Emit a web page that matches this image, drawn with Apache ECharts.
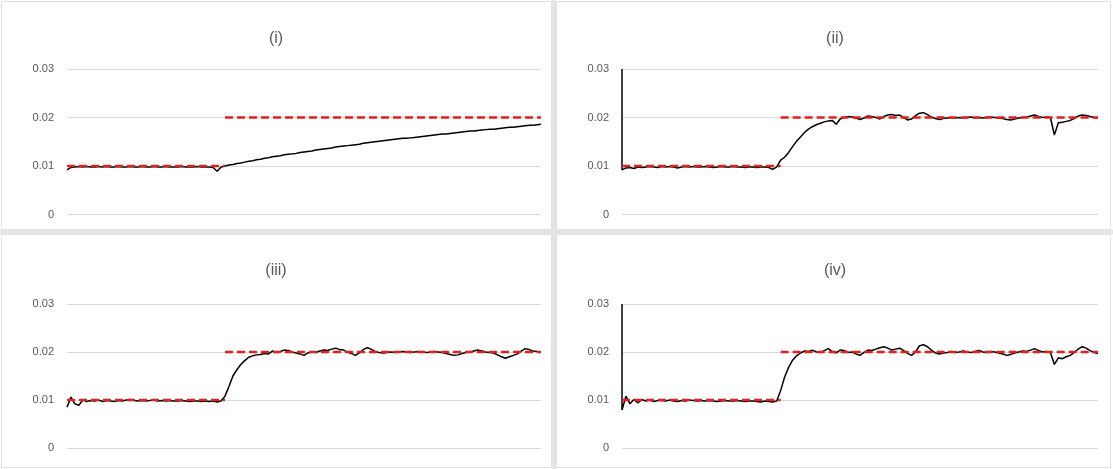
<!DOCTYPE html>
<html>
<head>
<meta charset="utf-8">
<script src="https://cdn.jsdelivr.net/npm/echarts@6/dist/echarts.min.js"></script>
<style>
  html, body { margin: 0; padding: 0; background: #fff; }
  #main { width: 1113px; height: 469px; }
</style>
</head>
<body>
<div id="main"></div>
<script>
    'use strict';

    // panel titles and y ticks
    var titles = ['(i)', '(ii)', '(iii)', '(iv)'];
    var yTicks = [0, 0.01, 0.02, 0.03];

    // sample index (x axis, 121 samples, set point changes at sample 40)
    var samples = [];
    for (var k = 0; k <= 120; k++) { samples.push(k); }

    // initial spike seen at sample 0 in panels (ii) and (iv), null = none
    var startSpike = [null, 0.03, null, 0.03];

    // set point, red dashed
    var setLow = [
        0.01,0.01,0.01,0.01,0.01,0.01,0.01,0.01,0.01,0.01,0.01,0.01,0.01,0.01,0.01,0.01,0.01,0.01,0.01,0.01,
        0.01,0.01,0.01,0.01,0.01,0.01,0.01,0.01,0.01,0.01,0.01,0.01,0.01,0.01,0.01,0.01,0.01,0.01,0.01,0.01,0.01
    ];
    var setHigh = [
        null,null,null,null,null,null,null,null,null,null,null,null,null,null,null,null,null,null,null,null,
        null,null,null,null,null,null,null,null,null,null,null,null,null,null,null,null,null,null,null,null,
        0.02,0.02,0.02,0.02,0.02,0.02,0.02,0.02,0.02,0.02,0.02,0.02,0.02,0.02,0.02,0.02,0.02,0.02,0.02,0.02,
        0.02,0.02,0.02,0.02,0.02,0.02,0.02,0.02,0.02,0.02,0.02,0.02,0.02,0.02,0.02,0.02,0.02,0.02,0.02,0.02,
        0.02,0.02,0.02,0.02,0.02,0.02,0.02,0.02,0.02,0.02,0.02,0.02,0.02,0.02,0.02,0.02,0.02,0.02,0.02,0.02,
        0.02,0.02,0.02,0.02,0.02,0.02,0.02,0.02,0.02,0.02,0.02,0.02,0.02,0.02,0.02,0.02,0.02,0.02,0.02,0.02,0.02
    ];

    // measured response, black
    var resp1 = [
        0.0092,0.0097,0.0098,0.0099,0.0098,0.0099,0.0098,0.0098,0.0099,0.0098,
        0.0099,0.0098,0.0098,0.0099,0.0098,0.0098,0.0099,0.0098,0.0098,0.0099,
        0.0098,0.0098,0.0099,0.0098,0.0098,0.0099,0.0098,0.0098,0.0098,0.0099,
        0.0098,0.0098,0.0098,0.0099,0.0098,0.0098,0.0098,0.0097,0.0089,0.0098,
        0.0100,0.0102,0.0103,0.0105,0.0106,0.0108,0.0110,0.0111,0.0113,0.0114,
        0.0116,0.0117,0.0119,0.0120,0.0121,0.0123,0.0124,0.0125,0.0126,0.0128,
        0.0129,0.0130,0.0131,0.0133,0.0134,0.0135,0.0136,0.0137,0.0139,0.0140,
        0.0141,0.0142,0.0143,0.0144,0.0145,0.0147,0.0148,0.0149,0.0150,0.0151,
        0.0152,0.0153,0.0154,0.0155,0.0156,0.0157,0.0157,0.0158,0.0159,0.0160,
        0.0161,0.0162,0.0163,0.0164,0.0165,0.0166,0.0166,0.0167,0.0168,0.0169,
        0.0170,0.0171,0.0172,0.0172,0.0173,0.0174,0.0175,0.0176,0.0176,0.0177,
        0.0178,0.0179,0.0180,0.0180,0.0181,0.0182,0.0183,0.0184,0.0184,0.0185,
        0.0186
    ];
    var resp2 = [
        0.0092,0.0096,0.0097,0.0095,0.0098,0.0097,0.0098,0.0099,0.0098,0.0097,
        0.0099,0.0098,0.0099,0.0098,0.0096,0.0098,0.0099,0.0098,0.0099,0.0098,
        0.0098,0.0099,0.0098,0.0097,0.0098,0.0099,0.0098,0.0098,0.0099,0.0098,
        0.0098,0.0097,0.0098,0.0098,0.0097,0.0098,0.0098,0.0097,0.0093,0.0098,
        0.0112,0.0118,0.0128,0.0140,0.0151,0.0160,0.0169,0.0176,0.0181,0.0185,
        0.0188,0.0191,0.0193,0.0194,0.0186,0.0197,0.0200,0.0202,0.0201,0.0199,
        0.0196,0.0199,0.0203,0.0202,0.0200,0.0197,0.0202,0.0205,0.0206,0.0204,
        0.0205,0.0200,0.0195,0.0197,0.0204,0.0209,0.0210,0.0206,0.0201,0.0198,
        0.0196,0.0198,0.0199,0.0200,0.0199,0.0200,0.0199,0.0200,0.0201,0.0199,
        0.0200,0.0199,0.0200,0.0201,0.0200,0.0199,0.0198,0.0196,0.0195,0.0197,
        0.0199,0.0200,0.0201,0.0203,0.0205,0.0202,0.0200,0.0201,0.0200,0.0164,
        0.0189,0.0190,0.0192,0.0194,0.0198,0.0203,0.0205,0.0204,0.0202,0.0200,
        0.0199
    ];
    var resp3 = [
        0.0085,0.0106,0.0092,0.0089,0.0100,0.0097,0.0099,0.0098,0.0100,0.0097,
        0.0099,0.0098,0.0097,0.0099,0.0098,0.0100,0.0101,0.0099,0.0098,0.0099,
        0.0098,0.0099,0.0100,0.0098,0.0099,0.0098,0.0099,0.0098,0.0098,0.0099,
        0.0098,0.0097,0.0098,0.0098,0.0097,0.0098,0.0097,0.0098,0.0096,0.0098,
        0.0108,0.0128,0.0150,0.0163,0.0174,0.0182,0.0189,0.0192,0.0194,0.0195,
        0.0197,0.0196,0.0202,0.0199,0.0201,0.0204,0.0203,0.0200,0.0198,0.0196,
        0.0193,0.0198,0.0200,0.0199,0.0202,0.0204,0.0203,0.0206,0.0208,0.0205,
        0.0204,0.0200,0.0197,0.0193,0.0198,0.0205,0.0209,0.0206,0.0201,0.0199,
        0.0198,0.0199,0.0200,0.0199,0.0200,0.0201,0.0200,0.0199,0.0200,0.0201,
        0.0200,0.0199,0.0200,0.0201,0.0200,0.0199,0.0197,0.0195,0.0193,0.0194,
        0.0197,0.0199,0.0200,0.0202,0.0204,0.0202,0.0200,0.0199,0.0198,0.0194,
        0.0190,0.0187,0.0190,0.0193,0.0196,0.0202,0.0207,0.0205,0.0202,0.0201,
        0.0199
    ];
    var resp4 = [
        0.0079,0.0108,0.0092,0.0101,0.0094,0.0101,0.0098,0.0100,0.0097,0.0099,
        0.0099,0.0098,0.0100,0.0098,0.0097,0.0099,0.0098,0.0100,0.0099,0.0098,
        0.0099,0.0098,0.0099,0.0098,0.0097,0.0098,0.0099,0.0098,0.0098,0.0099,
        0.0098,0.0097,0.0098,0.0098,0.0097,0.0096,0.0098,0.0097,0.0096,0.0098,
        0.0120,0.0148,0.0168,0.0183,0.0192,0.0198,0.0202,0.0201,0.0204,0.0200,
        0.0199,0.0203,0.0207,0.0201,0.0198,0.0204,0.0203,0.0199,0.0200,0.0196,
        0.0193,0.0199,0.0204,0.0203,0.0206,0.0209,0.0211,0.0208,0.0204,0.0206,
        0.0208,0.0203,0.0197,0.0193,0.0200,0.0213,0.0215,0.0211,0.0204,0.0198,
        0.0196,0.0198,0.0199,0.0201,0.0199,0.0200,0.0202,0.0200,0.0199,0.0201,
        0.0203,0.0200,0.0199,0.0201,0.0200,0.0198,0.0196,0.0193,0.0195,0.0198,
        0.0200,0.0202,0.0201,0.0204,0.0207,0.0203,0.0200,0.0201,0.0199,0.0174,
        0.0188,0.0186,0.0190,0.0193,0.0199,0.0206,0.0211,0.0208,0.0203,0.0199,
        0.0197
    ];
    var responses = [resp1, resp2, resp3, resp4];

    // layout of the four panels
    var panels = [
        { left: 67,  top: 69,  width: 474, height: 145.5, titleX: 276, titleY: 31 },
        { left: 622, top: 69,  width: 476, height: 145.5, titleX: 835, titleY: 31 },
        { left: 67,  top: 304, width: 474, height: 144,   titleX: 276, titleY: 263 },
        { left: 622, top: 304, width: 476, height: 144,   titleX: 835, titleY: 263 }
    ];

    function pairs(xs, ys) {
        var out = [];
        for (var j = 0; j < ys.length; j++) { out.push([xs[j], ys[j]]); }
        return out;
    }

    var font = 'Liberation Sans';
    var grid = [], xAxis = [], yAxis = [], series = [], title = [];

    panels.forEach(function (p, i) {
        var black = pairs(samples, responses[i]);
        if (startSpike[i] !== null) {
            black.unshift([samples[0], startSpike[i]]);
        }
        title.push({
            text: titles[i],
            left: p.titleX,
            top: p.titleY,
            textAlign: 'center',
            padding: 0,
            textStyle: { fontFamily: font, fontSize: 16, fontWeight: 'normal', color: '#595959' }
        });
        grid.push({ left: p.left, top: p.top, width: p.width, height: p.height });
        xAxis.push({
            type: 'value',
            gridIndex: i,
            min: samples[0],
            max: samples[samples.length - 1],
            axisLine: { show: false },
            axisTick: { show: false },
            axisLabel: { show: false },
            splitLine: { show: false }
        });
        yAxis.push({
            type: 'value',
            gridIndex: i,
            min: yTicks[0],
            max: yTicks[yTicks.length - 1],
            interval: 0.01,
            axisLine: { show: false },
            axisTick: { show: false },
            axisLabel: { fontFamily: font, fontSize: 11, color: '#595959', margin: 13 },
            splitLine: { lineStyle: { color: '#d9d9d9', width: 1 } }
        });
        series.push({
            type: 'line',
            xAxisIndex: i,
            yAxisIndex: i,
            data: black,
            showSymbol: false,
            lineStyle: { color: '#000', width: 1.5 },
            z: 2
        });
        series.push({
            type: 'line',
            xAxisIndex: i,
            yAxisIndex: i,
            data: pairs(samples, setLow),
            showSymbol: false,
            lineStyle: { color: '#e3201b', width: 2.5, type: [8, 4] },
            z: 3
        });
        series.push({
            type: 'line',
            xAxisIndex: i,
            yAxisIndex: i,
            data: pairs(samples, setHigh),
            showSymbol: false,
            lineStyle: { color: '#e3201b', width: 2.5, type: [8, 4] },
            z: 3
        });
    });

    var chart = echarts.init(document.getElementById('main'), null, { renderer: 'canvas' });
    chart.setOption({
        animation: false,
        backgroundColor: '#fff',
        title: title,
        grid: grid,
        xAxis: xAxis,
        yAxis: yAxis,
        series: series,
        graphic: [
            // panel separators and borders
            { type: 'rect', shape: { x: 552, y: 0, width: 4, height: 469 }, style: { fill: '#e4e4e4' }, z: -1 },
            { type: 'rect', shape: { x: 0, y: 230, width: 1113, height: 4 }, style: { fill: '#e4e4e4' }, z: -1 },
            { type: 'rect', shape: { x: 1.5, y: 1.5, width: 550, height: 228 }, style: { fill: 'none', stroke: '#e0e0e0', lineWidth: 1 }, z: -1 },
            { type: 'rect', shape: { x: 556.5, y: 1.5, width: 554, height: 228 }, style: { fill: 'none', stroke: '#e0e0e0', lineWidth: 1 }, z: -1 },
            { type: 'rect', shape: { x: 1.5, y: 234.5, width: 550, height: 233 }, style: { fill: 'none', stroke: '#e0e0e0', lineWidth: 1 }, z: -1 },
            { type: 'rect', shape: { x: 556.5, y: 234.5, width: 554, height: 233 }, style: { fill: 'none', stroke: '#e0e0e0', lineWidth: 1 }, z: -1 }
        ]
    });
</script>
</body>
</html>
